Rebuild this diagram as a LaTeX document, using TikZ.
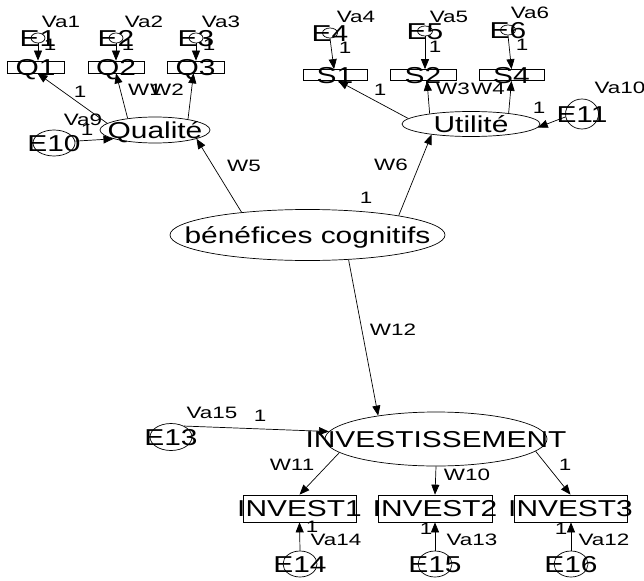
\documentclass[tikz,border=0pt]{standalone}
\usepackage{graphicx}
\usepackage{fontspec}
\setmainfont{Liberation Sans}
\usetikzlibrary{shapes.geometric,arrows.meta}
\newcommand{\bigtxt}[1]{\scalebox{1.3}[1]{\fontsize{23}{23}\selectfont #1}}
\newcommand{\smtxt}[1]{\scalebox{1.36}[1]{\fontsize{16.5}{16.5}\selectfont #1}}
\tikzset{
  obs/.style={draw, rectangle, inner sep=0pt, line width=0.7pt},
  lat/.style={draw, ellipse, inner sep=0pt, line width=0.7pt},
  bigl/.style={inner sep=0pt, text height=16.4pt, text depth=0pt},
  sm/.style={inner sep=0pt, text height=11.8pt, text depth=0pt},
  arr/.style={line width=0.7pt, -{Triangle[length=10pt,width=8pt]}}
}
\begin{document}
\begin{tikzpicture}[x=1pt,y=-1pt]
\useasboundingbox (0,0) rectangle (644,580);
% observed, top left
\node[obs, minimum width=57pt, minimum height=12pt, label={[bigl]center:\bigtxt{Q1}}] (Q1) at (35.5,67) {};
\node[obs, minimum width=56pt, minimum height=12pt, label={[bigl]center:\bigtxt{Q2}}] (Q2) at (116,67) {};
\node[obs, minimum width=57pt, minimum height=12pt, label={[bigl]center:\bigtxt{Q3}}] (Q3) at (195.5,67) {};
% observed, top right
\node[obs, minimum width=64pt, minimum height=11pt, label={[bigl]center:\bigtxt{S1}}] (S1) at (335,75) {};
\node[obs, minimum width=66pt, minimum height=11pt, label={[bigl]center:\bigtxt{S2}}] (S2) at (423,75) {};
\node[obs, minimum width=65pt, minimum height=11pt, label={[bigl]center:\bigtxt{S4}}] (S4) at (511.5,75) {};
% small errors top
\node[lat, minimum width=14pt, minimum height=10pt, label={[bigl]center:\bigtxt{E1}}] (E1) at (38,38) {};
\node[lat, minimum width=14pt, minimum height=10pt, label={[bigl]center:\bigtxt{E2}}] (E2) at (116,38) {};
\node[lat, minimum width=14pt, minimum height=10pt, label={[bigl]center:\bigtxt{E3}}] (E3) at (196,38) {};
\node[lat, minimum width=15pt, minimum height=10pt, label={[bigl]center:\bigtxt{E4}}] (E4) at (330,33) {};
\node[lat, minimum width=15pt, minimum height=10pt, label={[bigl]center:\bigtxt{E5}}] (E5) at (425,31) {};
\node[lat, minimum width=15pt, minimum height=10pt, label={[bigl]center:\bigtxt{E6}}] (E6) at (508,30) {};
% latent
\node[lat, minimum width=110pt, minimum height=26pt, label={[bigl]center:\bigtxt{Qualité}}] (Qual) at (155,130) {};
\node[lat, minimum width=138pt, minimum height=25pt, label={[bigl]center:\bigtxt{Utilité}}] (Util) at (471,124) {};
\node[lat, minimum width=275pt, minimum height=51pt, label={[bigl]center:\bigtxt{bénéfices cognitifs}}] (BC) at (307.5,235) {};
\node[lat, minimum width=222pt, minimum height=54pt, label={[bigl]center:\bigtxt{INVESTISSEMENT}}] (INV) at (436,439) {};
% error ellipses
\node[lat, minimum width=42pt, minimum height=26pt, label={[bigl]center:\bigtxt{E10}}] (E10) at (54,143) {};
\node[lat, minimum width=33pt, minimum height=30pt, label={[bigl]center:\bigtxt{E11}}] (E11) at (582,114) {};
\node[lat, minimum width=42pt, minimum height=27pt, label={[bigl]center:\bigtxt{E13}}] (E13) at (171,437) {};
% invest boxes
\node[obs, minimum width=113pt, minimum height=27pt, label={[bigl]center:\bigtxt{INVEST1}}] (I1) at (299.5,508.5) {};
\node[obs, minimum width=114pt, minimum height=27pt, label={[bigl]center:\bigtxt{INVEST2}}] (I2) at (435,508.5) {};
\node[obs, minimum width=113pt, minimum height=27pt, label={[bigl]center:\bigtxt{INVEST3}}] (I3) at (570.5,508.5) {};
\node[lat, minimum width=34pt, minimum height=26pt, label={[bigl]center:\bigtxt{E14}}] (E14) at (300,564) {};
\node[lat, minimum width=34pt, minimum height=26pt, label={[bigl]center:\bigtxt{E15}}] (E15) at (435,564) {};
\node[lat, minimum width=34pt, minimum height=26pt, label={[bigl]center:\bigtxt{E16}}] (E16) at (571,564) {};

% small labels
\node[sm] (va1) at (61,22) {\smtxt{Va1}};
\node[sm] (va2) at (144,22) {\smtxt{Va2}};
\node[sm] (va3) at (221,22) {\smtxt{Va3}};
\node[sm] (va4) at (356,17) {\smtxt{Va4}};
\node[sm] (va5) at (449,17) {\smtxt{Va5}};
\node[sm] (va6) at (530,13) {\smtxt{Va6}};
\node[sm] (va9) at (83,120) {\smtxt{Va9}};
\node[sm] (va10) at (620,88) {\smtxt{Va10}};
\node[sm] (va15) at (212,413) {\smtxt{Va15}};
\node[sm] (va14) at (336,540) {\smtxt{Va14}};
\node[sm] (va13) at (472,540) {\smtxt{Va13}};
\node[sm] (va12) at (604,540) {\smtxt{Va12}};
\node[sm] (o1) at (50,45) {\smtxt{1}};
\node[sm] (o2) at (128,45) {\smtxt{1}};
\node[sm] (o3) at (209,45) {\smtxt{1}};
\node[sm] (o4) at (345,48) {\smtxt{1}};
\node[sm] (o5) at (435,47) {\smtxt{1}};
\node[sm] (o6) at (522,45) {\smtxt{1}};
\node[sm] (o7) at (80,92) {\smtxt{1}};
\node[sm] (o8) at (87,130) {\smtxt{1}};
\node[sm] (o9) at (380,90) {\smtxt{1}};
\node[sm] (o10) at (539,108) {\smtxt{1}};
\node[sm] (o11) at (366,198) {\smtxt{1}};
\node[sm] (o12) at (260,416) {\smtxt{1}};
\node[sm] (o13) at (565,465) {\smtxt{1}};
\node[sm] (o14) at (312,527) {\smtxt{1}};
\node[sm] (o15) at (426,529) {\smtxt{1}};
\node[sm] (o16) at (561,529) {\smtxt{1}};
\node[sm] (w1) at (145,90) {\smtxt{W1}};
\node[sm] (w2) at (167,90) {\smtxt{W2}};
\node[sm] (w3) at (453,89) {\smtxt{W3}};
\node[sm] (w4) at (488,89) {\smtxt{W4}};
\node[sm] (w5) at (244,166) {\smtxt{W5}};
\node[sm] (w6) at (391,165) {\smtxt{W6}};
\node[sm] (w12) at (393,330) {\smtxt{W12}};
\node[sm] (w11) at (292,465) {\smtxt{W11}};
\node[sm] (w10) at (467,475) {\smtxt{W10}};

% arrows
\draw[arr] (E1.south) -- (E1 |- Q1.north);
\draw[arr] (E2.south) -- (E2 |- Q2.north);
\draw[arr] (E3.south) -- (E3 |- Q3.north);
\draw[arr] (E4.south) -- ([xshift=-1pt]S1.north);
\draw[arr] (E5.south) -- (E5 |- S2.north);
\draw[arr] (E6.south) -- (S4.north);
\draw[arr] (Qual.172) -- ([xshift=2pt]Q1.south);
\draw[arr] (Qual.157) -- (Q2.south);
\draw[arr] (Qual.18) -- ([xshift=-2pt]Q3.south);
\draw[arr] (E10.5) -- (Qual.192);
\draw[arr] (Util.175) -- ([xshift=3pt]S1.south);
\draw[arr] (Util.166) -- ([xshift=4pt]S2.south);
\draw[arr] (Util.16) -- (S4.south);
\draw[arr] (E11.190) -- (Util.-3);
\draw[arr] (BC.161) -- (Qual.-12);
\draw[arr] (BC.12) -- (Util.195);
\draw[arr] (BC.-31) -- (INV.158);
\draw[arr] (E13.40) -- (INV.176);
\draw[arr] (INV.188) -- (I1.north);
\draw[arr] (INV.-90) -- (I2.north);
\draw[arr] (INV.-7) -- (I3.north);
\draw[arr] (E14.north) -- (I1.south);
\draw[arr] (E15.north) -- (I2.south);
\draw[arr] (E16.north) -- (E16 |- I3.south);
\end{tikzpicture}
\end{document}
